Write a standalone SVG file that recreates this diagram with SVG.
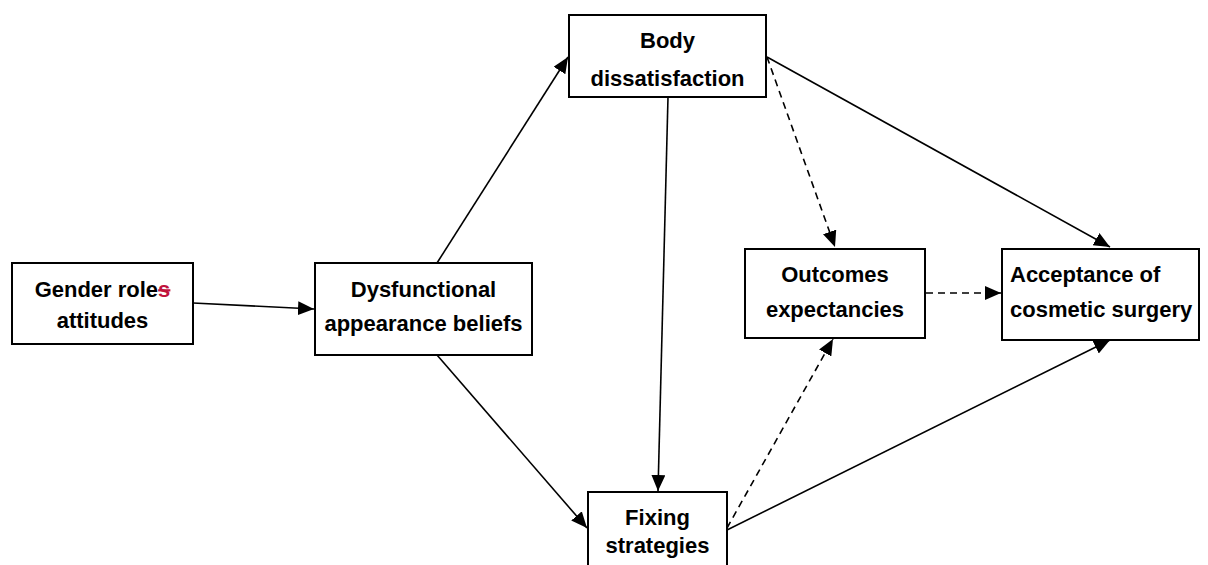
<svg xmlns="http://www.w3.org/2000/svg" width="1208" height="565" viewBox="0 0 1208 565">
<defs>
<marker id="ah" markerUnits="userSpaceOnUse" markerWidth="18" markerHeight="16" refX="16" refY="7" orient="auto">
<path d="M0,0 L16,7 L0,14 z" fill="#000"/>
</marker>
<style>
.box{fill:#fff;stroke:#000;stroke-width:2}
.t{font-family:"Liberation Sans",Arial,sans-serif;font-weight:bold;font-size:22px;fill:#000}
.c{text-anchor:middle}
.e{stroke:#000;stroke-width:1.6;fill:none;marker-end:url(#ah)}
.d{stroke-dasharray:7 5}
</style>
</defs>
<rect width="1208" height="565" fill="#fff"/>
<g id="connectors">
<line class="e" x1="193" y1="303" x2="314" y2="309"/>
<line class="e" x1="437" y1="263" x2="568" y2="57"/>
<line class="e" x1="437" y1="355" x2="587" y2="528"/>
<line class="e" x1="668" y1="97" x2="658" y2="491"/>
<line class="e" x1="767" y1="57" x2="1110" y2="247"/>
<line class="e d" x1="767" y1="57" x2="835" y2="247"/>
<line class="e d" x1="727" y1="528" x2="833" y2="339"/>
<line class="e" x1="727" y1="530" x2="1110" y2="340"/>
<line class="e d" x1="926" y1="293" x2="1001" y2="293"/>
</g>
<g id="gender">
<rect class="box" x="12" y="263" width="181" height="81"/>
<text class="t c" x="102.5" y="297">Gender role<tspan fill="#c0143c" text-decoration="line-through">s</tspan></text>
<text class="t c" x="102.5" y="328">attitudes</text>
</g>
<g id="dysfunctional">
<rect class="box" x="315" y="263" width="217" height="92"/>
<text class="t c" x="423.5" y="297">Dysfunctional</text>
<text class="t c" x="423.5" y="331">appearance beliefs</text>
</g>
<g id="body">
<rect class="box" x="569" y="15" width="197" height="82"/>
<text class="t c" x="667.5" y="48">Body</text>
<text class="t c" x="667.5" y="86">dissatisfaction</text>
</g>
<g id="fixing">
<rect class="box" x="588" y="492" width="139" height="90"/>
<text class="t c" x="657.5" y="525">Fixing</text>
<text class="t c" x="657.5" y="553">strategies</text>
</g>
<g id="outcomes">
<rect class="box" x="745" y="249" width="180" height="89"/>
<text class="t c" x="835" y="282">Outcomes</text>
<text class="t c" x="835" y="317">expectancies</text>
</g>
<g id="acceptance">
<rect class="box" x="1002" y="249" width="197" height="91"/>
<text class="t" x="1010" y="282">Acceptance of</text>
<text class="t" x="1010" y="317">cosmetic surgery</text>
</g>
</svg>
